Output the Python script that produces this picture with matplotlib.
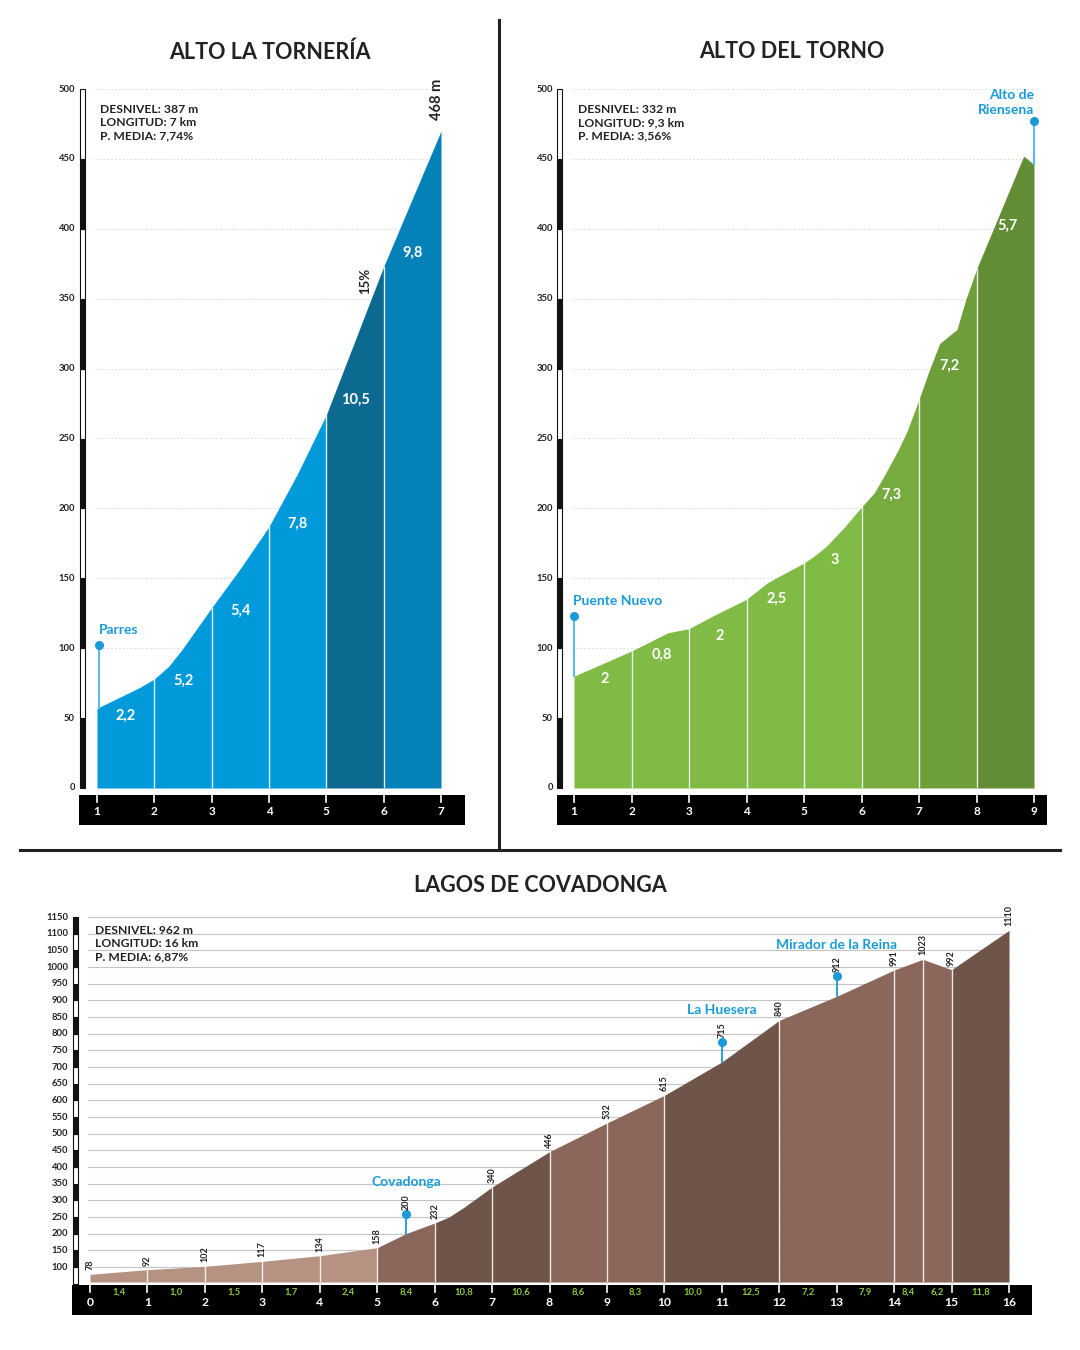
import matplotlib
matplotlib.use('Agg')
import matplotlib.pyplot as plt
import numpy as np
from matplotlib.patches import Rectangle
from matplotlib.lines import Line2D

plt.rcParams['font.family'] = ['Lato', 'DejaVu Sans']

W, H = 1080, 1350

# ---- ALTO LA TORNERIA ----
t1_title = 'ALTO LA TORNERÍA'
t1_km = [1, 1.25, 1.5, 1.75, 2, 2.25, 2.5, 3, 3.5, 4, 4.5, 5, 6, 7]
t1_elev = [57, 62, 67, 72, 78, 87, 100, 129, 157, 187, 225, 267, 373, 470]
t1_bounds = [1, 2, 3, 4, 5, 6, 7]
t1_grad = ['2,2', '5,2', '5,4', '7,8', '10,5', '9,8']
t1_info = ['DESNIVEL: 387 m', 'LONGITUD: 7 km', 'P. MEDIA: 7,74%']
t1_poi = 'Parres'
t1_top = '468 m'
t1_max = '15%'

# ---- ALTO DEL TORNO ----
t2_title = 'ALTO DEL TORNO'
t2_km = [1, 2, 2.63, 3, 3.41, 4, 4.37, 5, 5.18, 5.39, 5.69, 6, 6.22, 6.43,
         6.64, 6.79, 7, 7.18, 7.36, 7.66, 7.81, 8, 8.82, 9]
t2_elev = [80, 98, 111, 114, 123, 135, 147, 161, 166, 173, 186, 201, 211, 226,
           242, 255, 278, 299, 318, 328, 349, 371, 452, 446]
t2_bounds = [1, 2, 3, 4, 5, 6, 7, 8, 9]
t2_grad = ['2', '0,8', '2', '2,5', '3', '7,3', '7,2', '5,7']
t2_info = ['DESNIVEL: 332 m', 'LONGITUD: 9,3 km', 'P. MEDIA: 3,56%']
t2_poi_start = 'Puente Nuevo'
t2_poi_end = 'Alto de\nRiensena'

# ---- LAGOS DE COVADONGA ----
c_title = 'LAGOS DE COVADONGA'
c_mark_km = [0, 1, 2, 3, 4, 5, 5.5, 6, 7, 8, 9, 10, 11, 12, 13, 14, 14.5, 15, 16]
c_mark_elev = [78, 92, 102, 117, 134, 158, 200, 232, 340, 446, 532, 615, 715,
               840, 912, 991, 1023, 992, 1110]
c_shape_km = [6.25, 6.5]
c_shape_elev = [250, 278]
c_grad_km = [0.5, 1.5, 2.5, 3.5, 4.5, 5.5, 6.5, 7.5, 8.5, 9.5, 10.5, 11.5,
             12.5, 13.5, 14.25, 14.75, 15.5]
c_grad = ['1,4', '1,0', '1,5', '1,7', '2,4', '8,4', '10,8', '10,6', '8,6', '8,3',
          '10,0', '12,5', '7,2', '7,9', '8,4', '6,2', '11,8']
c_bounds = [0, 5, 6, 8, 10, 12, 15, 16]
c_poi_names = ['Covadonga', 'La Huesera', 'Mirador de la Reina']
c_poi_km = [5.5, 11, 13]
c_info = ['DESNIVEL: 962 m', 'LONGITUD: 16 km', 'P. MEDIA: 6,87%']

# ---- styles ----
BLUE = '#1a9ad7'
BLUE_LINE = '#5cbce8'
TXT = '#222222'
t1_colors = ['#0099da', '#0099da', '#0099da', '#0099da', '#0c6a91', '#0581b9']
t2_colors = ['#80bb46'] * 5 + ['#77ab3f', '#6d9e3a', '#628d35']
c_light, c_mid, c_dark = '#b69283', '#8b665a', '#6f5549'
c_colors = [c_light, c_mid, c_dark, c_mid, c_dark, c_mid, c_dark]

fig = plt.figure(figsize=(W / 100, H / 100), dpi=100)
fig.patch.set_facecolor('white')


def make_ax(left, right, top, bottom, xlim, ylim):
    ax = fig.add_axes([left / W, 1 - bottom / H, (right - left) / W, (bottom - top) / H])
    ax.set_xlim(xlim)
    ax.set_ylim(ylim)
    ax.axis('off')
    sx = (right - left) / (xlim[1] - xlim[0])
    sy = (bottom - top) / (ylim[1] - ylim[0])
    return ax, sx, sy


def fill_segments(ax, km, elev, bounds, colors, base):
    km = np.asarray(km, float)
    elev = np.asarray(elev, float)
    for a, b, col in zip(bounds[:-1], bounds[1:], colors):
        inner = (km > a) & (km < b)
        xs = np.concatenate([[a], km[inner], [b]])
        ys = np.concatenate([[np.interp(a, km, elev)], elev[inner], [np.interp(b, km, elev)]])
        ax.fill_between(xs, base, ys, color=col, lw=0, zorder=2)


def elev_bar(ax, x0, w, lo, hi):
    v = 0
    while v < hi:
        a, b = max(v, lo), min(v + 50, hi)
        if b > a:
            col = 'white' if (v // 50) % 2 == 1 else '#111111'
            ax.add_patch(Rectangle((x0, a), w, b - a, facecolor=col, edgecolor='#111111',
                                   lw=0.8, clip_on=False, zorder=3))
        v += 50


def km_bar(ax, x0, x1, y0, y1, ticks, label_y, sy, fs):
    ax.add_patch(Rectangle((x0, y1), x1 - x0, y0 - y1, facecolor='black', lw=0,
                           clip_on=False, zorder=3))
    for k in ticks:
        ax.plot([k, k], [y0, y0 - 7 / sy], color='white', lw=1.2, clip_on=False, zorder=4)
        ax.text(k, label_y, str(k), color='white', fontsize=fs, fontweight='bold',
                ha='center', va='center', zorder=5, clip_on=False)


def info_text(xpx, ypx, lines):
    fig.text(xpx / W, 1 - ypx / H, '\n'.join(lines), fontsize=8.7, fontweight='bold',
             color=TXT, ha='left', va='top', linespacing=1.25)


# ---- titles and dividers ----
fig.text(270 / W, 1 - 52 / H, t1_title, fontsize=15.5, fontweight='bold', color=TXT,
         ha='center', va='center')
fig.text(792 / W, 1 - 52 / H, t2_title, fontsize=15.5, fontweight='bold', color=TXT,
         ha='center', va='center')
fig.text(540 / W, 1 - 886 / H, c_title, fontsize=15.5, fontweight='bold', color=TXT,
         ha='center', va='center')
fig.add_artist(Line2D([499 / W, 499 / W], [1 - 20 / H, 1 - 848 / H], color='#222', lw=2.2))
fig.add_artist(Line2D([20 / W, 1060 / W], [1 - 850 / H, 1 - 850 / H], color='#222', lw=2.2))

# ============ chart 1 ============
ax1, sx, sy = make_ax(97, 441, 89, 788, (1, 7), (0, 500))
for v in range(50, 501, 50):
    ax1.plot([1 - 2 / sx, 7], [v, v], color='#dcdcdc', lw=0.7, ls=(0, (2, 2)), zorder=1,
             clip_on=False)
fill_segments(ax1, t1_km, t1_elev, t1_bounds, t1_colors, 0)
for k in t1_bounds[1:-1]:
    ax1.plot([k, k], [0, np.interp(k, t1_km, t1_elev)], color='white', lw=1, alpha=0.85, zorder=3)
elev_bar(ax1, 1 - 17 / sx, 5 / sx, 0, 500)
for v in range(0, 501, 50):
    ax1.text(1 - 22 / sx, v, str(v), fontsize=6.8, fontweight='bold', color=TXT,
             ha='right', va='center', clip_on=False)
km_bar(ax1, 1 - 18 / sx, 7 + 24 / sx, -5, -26.5, t1_bounds, -16.5, sy, 8.5)
t1_lab_y = [52, 77, 127, 189, 278, 383]
for a, b, g, y in zip(t1_bounds[:-1], t1_bounds[1:], t1_grad, t1_lab_y):
    ax1.text((a + b) / 2, y, g, color='white', fontsize=10.5, fontweight='bold',
             ha='center', va='center', zorder=5)
e0 = t1_elev[0]
ax1.plot([1.03, 1.03], [e0, e0 + 45], color=BLUE_LINE, lw=1.5, zorder=4, clip_on=False)
ax1.plot(1.03, e0 + 45, 'o', color=BLUE, ms=5.5, zorder=5, clip_on=False)
ax1.text(1.03, e0 + 56, t1_poi, color=BLUE, fontsize=10, fontweight='bold',
         ha='left', va='center', zorder=5)
ax1.text(5.675, 363, t1_max, rotation=90, color=TXT, fontsize=9.5, fontweight='bold',
         ha='center', va='center')
ax1.text(6.93, t1_elev[-1] + 8, t1_top, rotation=90, color=TXT, fontsize=10.5,
         fontweight='bold', ha='center', va='bottom', clip_on=False)
info_text(100, 104, t1_info)

# ============ chart 2 ============
ax2, sx, sy = make_ax(574, 1034, 89, 788, (1, 9), (0, 500))
for v in range(50, 501, 50):
    ax2.plot([1 - 2 / sx, 9], [v, v], color='#dcdcdc', lw=0.7, ls=(0, (2, 2)), zorder=1,
             clip_on=False)
fill_segments(ax2, t2_km, t2_elev, t2_bounds, t2_colors, 0)
for k in t2_bounds[1:-1]:
    ax2.plot([k, k], [0, np.interp(k, t2_km, t2_elev)], color='white', lw=1, alpha=0.85, zorder=3)
elev_bar(ax2, 1 - 17 / sx, 5 / sx, 0, 500)
for v in range(0, 501, 50):
    ax2.text(1 - 21 / sx, v, str(v), fontsize=6.8, fontweight='bold', color=TXT,
             ha='right', va='center', clip_on=False)
km_bar(ax2, 1 - 17 / sx, 9 + 13 / sx, -5, -26.5, t2_bounds, -16.5, sy, 8.5)
t2_lab_y = [78, 95, 109, 135, 163, 210, 302, 402]
for a, b, g, y in zip(t2_bounds[:-1], t2_bounds[1:], t2_grad, t2_lab_y):
    ax2.text((a + b) / 2 + 0.03, y, g, color='white', fontsize=10.5, fontweight='bold',
             ha='center', va='center', zorder=5)
e0 = t2_elev[0]
ax2.plot([1, 1], [e0, e0 + 43], color=BLUE_LINE, lw=1.5, zorder=4, clip_on=False)
ax2.plot(1, e0 + 43, 'o', color=BLUE, ms=5.5, zorder=5, clip_on=False)
ax2.text(0.98, e0 + 54, t2_poi_start, color=BLUE, fontsize=10, fontweight='bold',
         ha='left', va='center', zorder=5)
e1 = t2_elev[-1]
ax2.plot([9, 9], [e1, e1 + 31], color=BLUE_LINE, lw=1.5, zorder=4, clip_on=False)
ax2.plot(9, e1 + 31, 'o', color=BLUE, ms=5.5, zorder=5, clip_on=False)
ax2.text(9, e1 + 35, t2_poi_end, color=BLUE, fontsize=10, fontweight='bold',
         ha='right', va='bottom', zorder=5, linespacing=1.3, clip_on=False)
info_text(578, 104, t2_info)

# ============ chart 3 ============
ax3, sx, sy = make_ax(90, 1009, 917, 1282, (0, 16), (55, 1150))
for v in range(100, 1151, 50):
    ax3.plot([0 - 2 / sx, 16], [v, v], color='#c4c4c4', lw=0.8, zorder=1, clip_on=False)
c_km = np.array(c_mark_km + c_shape_km, float)
c_elev = np.array(c_mark_elev + c_shape_elev, float)
order = np.argsort(c_km)
c_km, c_elev = c_km[order], c_elev[order]
fill_segments(ax3, c_km, c_elev, c_bounds, c_colors, 55)
for k in c_mark_km:
    if k in c_poi_km or k in (0, 16):
        continue
    ax3.plot([k, k], [55, np.interp(k, c_km, c_elev)], color='white', lw=1, alpha=0.85, zorder=3)
elev_bar(ax3, -17 / sx, 5 / sx, 46, 1150)
for v in range(100, 1151, 50):
    ax3.text(-22 / sx, v, str(v), fontsize=6.8, fontweight='bold', color=TXT,
             ha='right', va='center', clip_on=False)
km_bar(ax3, -18 / sx, 16 + 23 / sx, 46, -44, list(range(0, 17)), -5, sy, 8.7)
for k, g in zip(c_grad_km, c_grad):
    ax3.text(k, 25, g, color='#8dc63f', fontsize=6.8, fontweight='bold',
             ha='center', va='center', zorder=5, clip_on=False)
poi_dot = {}
for name, k in zip(c_poi_names, c_poi_km):
    e = np.interp(k, c_km, c_elev)
    d = e + 60
    poi_dot[k] = d
    ax3.plot([k, k], [e, d], color=BLUE, lw=1.3, zorder=4)
    ax3.plot(k, d, 'o', color=BLUE, ms=5.5, zorder=5)
    ax3.text(k, d + 95, name, color=BLUE, fontsize=10, fontweight='bold',
             ha='center', va='center', zorder=5)
for k, v in zip(c_mark_km, c_mark_elev):
    y0 = poi_dot.get(k, v) + 12
    ax3.text(k, y0, str(v), rotation=90, color=TXT, fontsize=6.5, fontweight='bold',
             ha='center', va='bottom', zorder=5, clip_on=False)
info_text(95, 925, c_info)

fig.savefig('out.png', dpi=100, facecolor='white')
